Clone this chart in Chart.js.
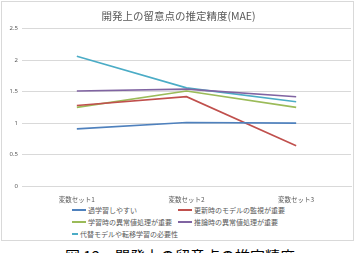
<!DOCTYPE html>
<html><head><meta charset="utf-8">
<script src="https://cdn.jsdelivr.net/npm/chart.js@4/dist/chart.umd.min.js"></script>
<style>
html,body{margin:0;padding:0;background:#fff;width:360px;height:253px;overflow:hidden;font-family:"Noto Sans CJK JP","Noto Sans",sans-serif;}
#box{position:absolute;left:1px;top:1px;width:353px;height:240px;border:1px solid #d9d9d9;box-sizing:border-box;}
#wrap{position:absolute;left:0;top:0;width:351px;height:202px;}
#legend{position:absolute;left:70px;top:203px;width:270px;font-size:7px;color:#595959;display:grid;grid-template-columns:106px 160px;row-gap:3px;}
#legend div{display:flex;align-items:center;white-space:nowrap;height:9px;}
#legend span.sw{display:inline-block;width:14px;height:2px;margin-right:2px;}
#cap{position:absolute;left:0;width:360px;top:245px;text-align:center;font-size:15px;color:#000;font-family:"Noto Sans CJK JP",sans-serif;white-space:nowrap;}
</style></head>
<body>
<div id="box"><div id="wrap"><canvas id="c"></canvas></div><div id="legend"></div></div>
<div id="cap">図 12　開発上の留意点の推定精度</div>
<script>
const categories = ["変数セット1", "変数セット2", "変数セット3"];
const seriesNames = ["過学習しやすい", "更新時のモデルの監視が重要", "学習時の異常値処理が重要", "推論時の異常値処理が重要", "代替モデルや転移学習の必要性"];
const overfit = [0.91, 1.01, 1.0];
const monitoring = [1.28, 1.42, 0.64];
const trainOutlier = [1.25, 1.51, 1.25];
const inferOutlier = [1.51, 1.54, 1.42];
const transfer = [2.06, 1.56, 1.34];
const yTicks = [0, 0.5, 1, 1.5, 2, 2.5];
const colors = ["#4F81BD", "#C0504D", "#9BBB59", "#8064A2", "#4BACC6"];
const values = [overfit, monitoring, trainOutlier, inferOutlier, transfer];

const datasets = seriesNames.map((n, i) => ({
  label: n, data: values[i], borderColor: colors[i], backgroundColor: colors[i],
  borderWidth: 1.6, pointRadius: 0, tension: 0, fill: false
}));

const chart = new Chart(document.getElementById('c'), {
  type: 'line',
  data: { labels: categories, datasets },
  options: {
    responsive: true, maintainAspectRatio: false, animation: false,
    layout: { padding: { left: 4, right: 2, top: 5, bottom: 0 } },
    plugins: {
      legend: { display: false },
      tooltip: { enabled: false },
      title: { display: true, text: '開発上の留意点の推定精度(MAE)', color: '#595959',
        font: { family: '"Noto Sans CJK JP", sans-serif', size: 10.5, weight: 'normal' }, padding: { top: 3, bottom: 6 } }
    },
    scales: {
      x: { offset: true, grid: { display: false }, border: { color: '#d9d9d9' },
        ticks: { color: '#595959', font: { family: '"Noto Sans CJK JP", sans-serif', size: 6.5 }, padding: 1 } },
      y: { min: 0, max: 2.5, afterBuildTicks: a => { a.ticks = yTicks.map(v => ({ value: v })); },
        grid: { color: '#d9d9d9', drawTicks: false }, border: { display: false },
        afterFit: a => { a.width = 16; },
        ticks: { color: '#595959', font: { family: '"Noto Sans", sans-serif', size: 6 }, padding: 4,
          callback: v => String(v) } }
    }
  }
});

const lg = document.getElementById('legend');
chart.data.datasets.forEach(ds => {
  const d = document.createElement('div');
  const s = document.createElement('span'); s.className = 'sw'; s.style.background = ds.borderColor;
  d.appendChild(s); d.appendChild(document.createTextNode(ds.label));
  lg.appendChild(d);
});
</script>
</body></html>
